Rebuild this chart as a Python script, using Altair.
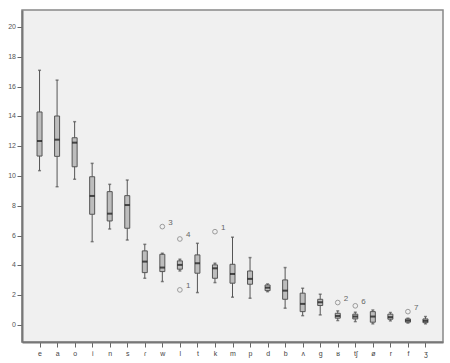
import altair as alt
import pandas as pd

cats = ["e", "a", "o", "i", "n", "s", "ɾ", "w", "l", "t", "k", "m", "p",
        "d", "b", "ʌ", "g", "ʁ", "tʃ", "ø", "r", "f", "ʒ"]
wlo = [10.36, 9.28, 9.78, 5.59, 6.44, 5.70, 3.13, 2.91, 3.62, 2.17, 2.84, 1.86, 1.79,
       2.23, 1.12, 0.62, 0.67, 0.29, 0.22, 0.07, 0.27, 0.12, 0.07]
q1 = [11.34, 11.32, 10.62, 7.43, 6.98, 6.49, 3.51, 3.58, 3.74, 3.47, 3.13, 2.80, 2.73,
      2.30, 1.72, 0.89, 1.30, 0.45, 0.40, 0.18, 0.38, 0.18, 0.15]
med = [12.35, 12.44, 12.24, 8.66, 7.47, 8.05, 4.25, 3.85, 4.03, 4.14, 3.80, 3.42, 3.09,
       2.50, 2.30, 1.41, 1.52, 0.60, 0.56, 0.56, 0.52, 0.29, 0.27]
q3 = [14.30, 14.03, 12.57, 9.95, 8.95, 8.68, 4.97, 4.74, 4.30, 4.70, 4.03, 4.07, 3.62,
      2.68, 3.02, 2.13, 1.72, 0.78, 0.72, 0.89, 0.72, 0.40, 0.40]
whi = [17.10, 16.44, 13.65, 10.85, 9.44, 9.73, 5.41, 4.81, 4.41, 5.48, 4.14, 5.89, 4.52,
       2.75, 3.85, 2.46, 2.06, 0.94, 0.85, 1.00, 0.83, 0.45, 0.56]

out_cat = ["w", "l", "l", "k", "ʁ", "tʃ", "f"]
out_val = [6.60, 5.77, 2.35, 6.26, 1.50, 1.28, 0.89]
out_lab = ["3", "4", "1", "1", "2", "6", "7"]

ytick_vals = [0, 2, 4, 6, 8, 10, 12, 14, 16, 18, 20]

box = pd.DataFrame({"cat": cats, "wlo": wlo, "q1": q1, "med": med, "q3": q3, "whi": whi})
outl = pd.DataFrame({"cat": out_cat, "val": out_val, "lab": out_lab})
yt = pd.DataFrame({"v": ytick_vals, "t": [str(v) for v in ytick_vals]})

xenc = alt.X("cat:N", sort=cats, title=None,
             scale=alt.Scale(type="point", padding=1.78),
             axis=alt.Axis(labelAngle=0, labelFontSize=7, labelColor="#444",
                           domainColor="#777", domainWidth=2, tickColor="#666",
                           tickSize=5, labelPadding=2, grid=False, labelOverlap=False))
yscale = alt.Scale(domain=[-1.15, 21.15], nice=False, zero=False)
yaxis = alt.Axis(values=ytick_vals, labels=False, domainColor="#777", domainWidth=2,
                 tickColor="#666", tickSize=5, grid=False, title=None)


def Y(field):
    return alt.Y(field, scale=yscale, axis=yaxis, title=None)


base = alt.Chart(box)
whisk = base.mark_rule(color="#555", strokeWidth=1).encode(
    x=xenc, y=Y("wlo:Q"), y2="whi:Q")
cap_lo = base.mark_tick(color="#555", size=3, thickness=1.5).encode(x=xenc, y=Y("wlo:Q"))
cap_hi = base.mark_tick(color="#555", size=3, thickness=1.5).encode(x=xenc, y=Y("whi:Q"))
bars = base.mark_bar(size=5, fill="#bdbdbd", stroke="#555", strokeWidth=1).encode(
    x=xenc, y=Y("q1:Q"), y2="q3:Q")
medn = base.mark_tick(color="#111", size=5, thickness=2).encode(x=xenc, y=Y("med:Q"))

ob = alt.Chart(outl)
pts = ob.mark_point(shape="circle", size=22, filled=False, color="#777", strokeWidth=1).encode(
    x=xenc, y=Y("val:Q"))
txt = ob.mark_text(fontSize=8, color="#666", dx=6, dy=-4, align="left").encode(
    x=xenc, y=Y("val:Q"), text="lab:N")

ylab = alt.Chart(yt).mark_text(fontSize=7, color="#555", align="right", baseline="middle").encode(
    x=alt.value(-6), y=Y("v:Q"), text="t:N")

chart = alt.layer(whisk, cap_lo, cap_hi, bars, medn, pts, txt, ylab).properties(
    width=421, height=332,
    autosize=alt.AutoSizeParams(type="none"),
    padding={"left": 22, "top": 10, "right": 7, "bottom": 21},
    background="white",
).configure_view(fill="#f0f0f0", stroke="#888", strokeWidth=1.5)

chart.save("out.html", embed_options={"renderer": "svg", "actions": False})
